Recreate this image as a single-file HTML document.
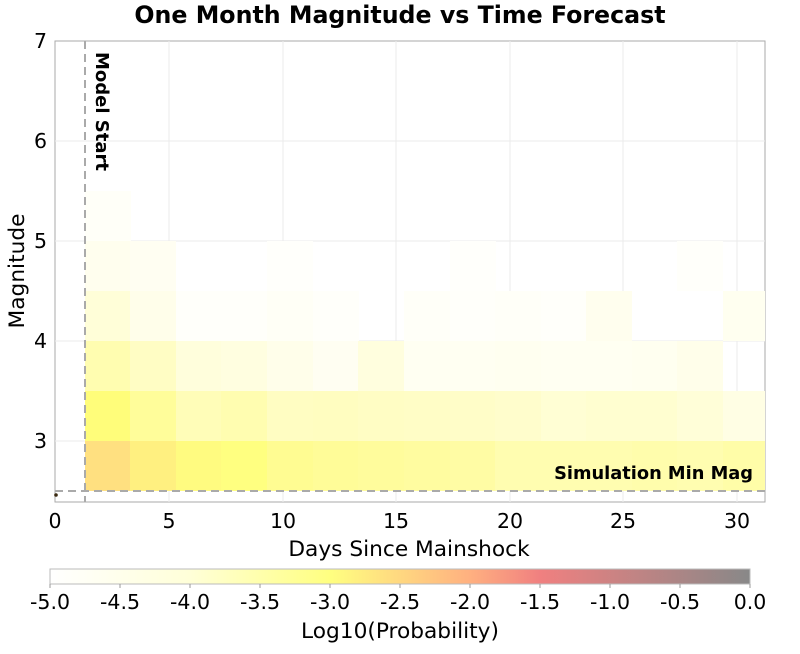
<!DOCTYPE html>
<html><head><meta charset="utf-8"><style>
body{margin:0;background:#fff;font-family:"DejaVu Sans","Liberation Sans",sans-serif;}
</style></head><body>
<svg width="800" height="650" xmlns="http://www.w3.org/2000/svg" font-family="DejaVu Sans, Liberation Sans, sans-serif">
<defs>
<linearGradient id="cb" x1="0" x2="1" y1="0" y2="0">
<stop offset="0" stop-color="#ffffff"/>
<stop offset="0.2" stop-color="#ffffd8"/>
<stop offset="0.4" stop-color="#ffff80"/>
<stop offset="0.6" stop-color="#ffb080"/>
<stop offset="0.7" stop-color="#f08080"/>
<stop offset="1" stop-color="#888888"/>
</linearGradient>
</defs>
<text x="400" y="23" text-anchor="middle" font-size="23.7" font-weight="bold">One Month Magnitude vs Time Forecast</text>
<rect x="55" y="41" width="710" height="461" fill="#fff" stroke="#aaa"/>
<g stroke="#ebebeb" stroke-width="1">
<line x1="169" y1="41" x2="169" y2="502"/><line x1="283" y1="41" x2="283" y2="502"/>
<line x1="396" y1="41" x2="396" y2="502"/><line x1="510" y1="41" x2="510" y2="502"/>
<line x1="623" y1="41" x2="623" y2="502"/><line x1="737" y1="41" x2="737" y2="502"/>
<line x1="55" y1="141" x2="765" y2="141"/><line x1="55" y1="241" x2="765" y2="241"/>
<line x1="55" y1="341" x2="765" y2="341"/><line x1="55" y1="441" x2="765" y2="441"/>
</g>
<g id="cells">
<rect x="85" y="441" width="46" height="50" fill="#ffe080"/>
<rect x="130" y="441" width="46" height="50" fill="#fff080"/>
<rect x="176" y="441" width="46" height="50" fill="#fffb80"/>
<rect x="221" y="441" width="46" height="50" fill="#ffff80"/>
<rect x="267" y="441" width="46" height="50" fill="#fffc92"/>
<rect x="313" y="441" width="46" height="50" fill="#fffc98"/>
<rect x="358" y="441" width="46" height="50" fill="#fffc9c"/>
<rect x="404" y="441" width="46" height="50" fill="#fffca0"/>
<rect x="450" y="441" width="46" height="50" fill="#fffca4"/>
<rect x="495" y="441" width="46" height="50" fill="#fffdb0"/>
<rect x="541" y="441" width="46" height="50" fill="#fffdb0"/>
<rect x="586" y="441" width="46" height="50" fill="#fffdb0"/>
<rect x="632" y="441" width="46" height="50" fill="#fffdac"/>
<rect x="677" y="441" width="46" height="50" fill="#fffdb0"/>
<rect x="723" y="441" width="42" height="50" fill="#fffda8"/>
<rect x="85" y="391" width="46" height="50" fill="#fffd7a"/>
<rect x="130" y="391" width="46" height="50" fill="#fffd9a"/>
<rect x="176" y="391" width="46" height="50" fill="#fffdb8"/>
<rect x="221" y="391" width="46" height="50" fill="#fffdb0"/>
<rect x="267" y="391" width="46" height="50" fill="#fffdc2"/>
<rect x="313" y="391" width="46" height="50" fill="#fffdc0"/>
<rect x="358" y="391" width="46" height="50" fill="#fffdc4"/>
<rect x="404" y="391" width="46" height="50" fill="#fffdc6"/>
<rect x="450" y="391" width="46" height="50" fill="#fffdc8"/>
<rect x="495" y="391" width="46" height="50" fill="#fffdcc"/>
<rect x="541" y="391" width="46" height="50" fill="#fffed4"/>
<rect x="586" y="391" width="46" height="50" fill="#fffed0"/>
<rect x="632" y="391" width="46" height="50" fill="#fffed0"/>
<rect x="677" y="391" width="46" height="50" fill="#fffed8"/>
<rect x="723" y="391" width="42" height="50" fill="#fffee4"/>
<rect x="85" y="341" width="46" height="50" fill="#fffdb0"/>
<rect x="130" y="341" width="46" height="50" fill="#fffdc4"/>
<rect x="176" y="341" width="46" height="50" fill="#fffedc"/>
<rect x="221" y="341" width="46" height="50" fill="#fffee0"/>
<rect x="267" y="341" width="46" height="50" fill="#fffeea"/>
<rect x="313" y="341" width="46" height="50" fill="#fffef2"/>
<rect x="358" y="341" width="46" height="50" fill="#fffede"/>
<rect x="404" y="341" width="46" height="50" fill="#fffff2"/>
<rect x="450" y="341" width="46" height="50" fill="#fffff2"/>
<rect x="495" y="341" width="46" height="50" fill="#fffff0"/>
<rect x="541" y="341" width="46" height="50" fill="#fffff2"/>
<rect x="586" y="341" width="46" height="50" fill="#fffff2"/>
<rect x="632" y="341" width="46" height="50" fill="#fffff0"/>
<rect x="677" y="341" width="46" height="50" fill="#fffeea"/>
<rect x="85" y="291" width="46" height="50" fill="#fffed8"/>
<rect x="130" y="291" width="46" height="50" fill="#fffeea"/>
<rect x="176" y="291" width="46" height="50" fill="#fffffa"/>
<rect x="221" y="291" width="46" height="50" fill="#fffffa"/>
<rect x="267" y="291" width="46" height="50" fill="#fffff6"/>
<rect x="313" y="291" width="46" height="50" fill="#fffffa"/>
<rect x="404" y="291" width="46" height="50" fill="#fffff8"/>
<rect x="450" y="291" width="46" height="50" fill="#fffffa"/>
<rect x="495" y="291" width="46" height="50" fill="#fffff8"/>
<rect x="541" y="291" width="46" height="50" fill="#fffffa"/>
<rect x="586" y="291" width="46" height="50" fill="#fffeee"/>
<rect x="723" y="291" width="42" height="50" fill="#fffff0"/>
<rect x="85" y="241" width="46" height="50" fill="#fffeee"/>
<rect x="130" y="241" width="46" height="50" fill="#fffef2"/>
<rect x="267" y="241" width="46" height="50" fill="#fffffb"/>
<rect x="450" y="241" width="46" height="50" fill="#fffffb"/>
<rect x="677" y="241" width="46" height="50" fill="#fffffa"/>
<rect x="85" y="191" width="46" height="50" fill="#fffff8"/>
</g>
<line x1="85" y1="41" x2="85" y2="502" stroke="#aaa" stroke-width="2" stroke-dasharray="8,5"/>
<line x1="55" y1="491" x2="765" y2="491" stroke="#aaa" stroke-width="2" stroke-dasharray="8,5"/>
<circle cx="56" cy="495" r="1.8" fill="#3a2a10"/>
<text transform="translate(96,52) rotate(90)" font-size="18" font-weight="bold">Model Start</text>
<text x="753" y="479" text-anchor="end" font-size="17.8" font-weight="bold">Simulation Min Mag</text>
<g font-size="20.5" text-anchor="middle">
<text x="55" y="528">0</text><text x="169" y="528">5</text><text x="283" y="528">10</text>
<text x="396" y="528">15</text><text x="510" y="528">20</text><text x="623" y="528">25</text><text x="737" y="528">30</text>
</g>
<g font-size="20.5" text-anchor="end">
<text x="47" y="48">7</text><text x="47" y="148">6</text><text x="47" y="248">5</text>
<text x="47" y="348">4</text><text x="47" y="448">3</text>
</g>
<text x="409" y="556" text-anchor="middle" font-size="21.7">Days Since Mainshock</text>
<text transform="translate(24,271) rotate(-90)" text-anchor="middle" font-size="21.7">Magnitude</text>
<rect x="50" y="569" width="700" height="15" fill="url(#cb)" stroke="#bbb"/>
<g stroke="#999">
<line x1="50" y1="584" x2="50" y2="588"/><line x1="120" y1="584" x2="120" y2="588"/><line x1="190" y1="584" x2="190" y2="588"/>
<line x1="260" y1="584" x2="260" y2="588"/><line x1="330" y1="584" x2="330" y2="588"/><line x1="400" y1="584" x2="400" y2="588"/>
<line x1="470" y1="584" x2="470" y2="588"/><line x1="540" y1="584" x2="540" y2="588"/><line x1="610" y1="584" x2="610" y2="588"/>
<line x1="680" y1="584" x2="680" y2="588"/><line x1="750" y1="584" x2="750" y2="588"/>
</g>
<g font-size="20.5" text-anchor="middle">
<text x="50" y="609">-5.0</text><text x="120" y="609">-4.5</text><text x="190" y="609">-4.0</text>
<text x="260" y="609">-3.5</text><text x="330" y="609">-3.0</text><text x="400" y="609">-2.5</text>
<text x="470" y="609">-2.0</text><text x="540" y="609">-1.5</text><text x="610" y="609">-1.0</text>
<text x="680" y="609">-0.5</text><text x="750" y="609">0.0</text>
</g>
<text x="400" y="638" text-anchor="middle" font-size="21.7">Log10(Probability)</text>
</svg>
</body></html>
